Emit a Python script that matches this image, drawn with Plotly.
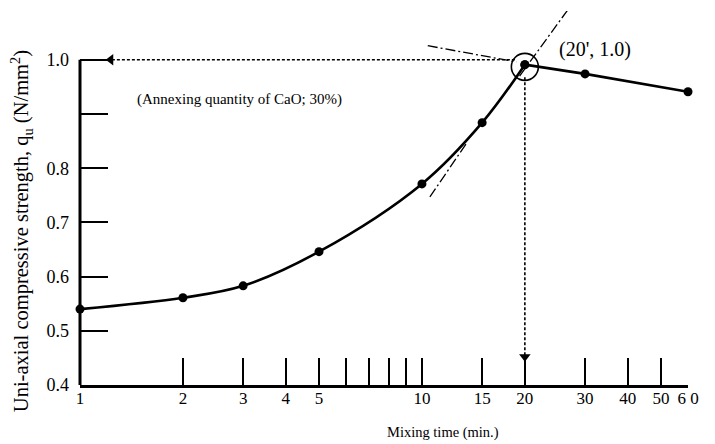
import math
import plotly.graph_objects as go

# ---- data ----
mix_time_rise = [1, 2, 3, 5, 10, 15, 20]
strength_rise = [0.540, 0.561, 0.583, 0.646, 0.771, 0.884, 0.991]
mix_time_fall = [20, 30, 60]
strength_fall = [0.991, 0.974, 0.941]

x_tickvals = [1, 2, 3, 4, 5, 6, 7, 8, 9, 10, 15, 20, 30, 40, 50, 60]
x_ticktext = ["1", "2", "3", "4", "5", "", "", "", "", "10", "15", "20", "30", "40", "50", "6 0"]
y_tickvals = [0.4, 0.5, 0.6, 0.7, 0.8, 0.9, 1.0]
y_ticktext = ["0.4", "0.5", "0.6", "0.7", "0.8", "", "1.0"]

optimum_time = 20
optimum_strength = 1.0

# construction lines (dash-dot tangents) endpoints in data units
tangent_flat_x = [10.4, 18.9]
tangent_flat_y = [1.026, 0.996]
tangent_steep_x = [26.7, 19.3]
tangent_steep_y = [1.092, 0.970]
tangent_mid_x = [10.55, 13.6]
tangent_mid_y = [0.747, 0.849]

# dotted read-off arrows
hline_x = [18.7, 1.23]
vline_y = [0.968, 0.452]

FONT = "Liberation Serif"
Y_MIN, Y_MAX = 0.4, 1.09

fig = go.Figure()

# main curve (smooth rise)
fig.add_trace(go.Scatter(
    x=mix_time_rise, y=strength_rise, mode="lines+markers",
    line=dict(color="black", width=2.6, shape="spline", smoothing=1.0),
    marker=dict(color="black", size=9), cliponaxis=False, showlegend=False))
# straight decline
fig.add_trace(go.Scatter(
    x=mix_time_fall, y=strength_fall, mode="lines+markers",
    line=dict(color="black", width=2.6),
    marker=dict(color="black", size=9), cliponaxis=False, showlegend=False))

# tangent construction lines
for tx, ty in [(tangent_flat_x, tangent_flat_y), (tangent_steep_x, tangent_steep_y),
               (tangent_mid_x, tangent_mid_y)]:
    fig.add_trace(go.Scatter(x=tx, y=ty, mode="lines",
                             line=dict(color="black", width=1.3, dash="10px,3px,2px,3px"),
                             showlegend=False))

# dotted horizontal arrow to y axis
fig.add_trace(go.Scatter(x=hline_x, y=[optimum_strength, optimum_strength], mode="lines",
                         line=dict(color="black", width=1.6, dash="3px,2px"), showlegend=False))
fig.add_trace(go.Scatter(x=[hline_x[-1]], y=[optimum_strength], mode="markers",
                         marker=dict(symbol="triangle-left", size=10, color="black"),
                         cliponaxis=False, showlegend=False))
# dotted vertical arrow to x axis
fig.add_trace(go.Scatter(x=[optimum_time, optimum_time], y=vline_y, mode="lines",
                         line=dict(color="black", width=1.6, dash="3px,2px"), showlegend=False))
fig.add_trace(go.Scatter(x=[optimum_time], y=[vline_y[-1]], mode="markers",
                         marker=dict(symbol="triangle-down", size=10, color="black"),
                         cliponaxis=False, showlegend=False))

# circle around optimum
fig.add_trace(go.Scatter(x=[optimum_time], y=[strength_rise[-1] - 0.004], mode="markers",
                         marker=dict(symbol="circle-open", size=27, color="black",
                                     line=dict(width=1.6, color="black")),
                         cliponaxis=False, showlegend=False))

# custom y axis line from 0.4 to 1.0
fig.add_shape(type="line", xref="paper", yref="y", x0=0, x1=0, y0=Y_MIN, y1=1.0,
              line=dict(color="black", width=3))

fig.add_annotation(x=math.log10(24.9), y=1.019, xref="x", yref="y",
                   text="(20', 1.0)", showarrow=False, xanchor="left",
                   font=dict(family=FONT, size=20, color="black"))
fig.add_annotation(x=math.log10(1.45), y=0.927, xref="x", yref="y",
                   text="(Annexing quantity of CaO; 30%)", showarrow=False, xanchor="left",
                   font=dict(family=FONT, size=15, color="black"))
fig.add_annotation(x=-75 / 608, y=0.41, xref="paper", yref="paper",
                   text="Uni-axial compressive strength, q<sub>u</sub> (N/mm<sup>2</sup>)",
                   textangle=-90, showarrow=False,
                   font=dict(family=FONT, size=20.5, color="black"))
fig.add_annotation(x=0.597, y=-0.155, xref="paper", yref="paper",
                   text="Mixing time (min.)", showarrow=False,
                   font=dict(family=FONT, size=14.5, color="black"))

fig.update_layout(
    width=707, height=436,
    margin=dict(l=72, r=27, t=3, b=59),
    paper_bgcolor="white", plot_bgcolor="white",
    font=dict(family=FONT, size=15, color="black"),
    xaxis=dict(type="log", range=[0, math.log10(60)], tickvals=x_tickvals, ticktext=x_ticktext,
               ticks="inside", ticklen=27, tickwidth=1.5, tickcolor="black",
               tickfont=dict(family=FONT, size=17, color="black"), ticklabelstandoff=-4,
               showline=True, linewidth=3, linecolor="black", showgrid=False, zeroline=False),
    yaxis=dict(range=[Y_MIN, Y_MAX], tickvals=y_tickvals, ticktext=y_ticktext,
               ticks="inside", ticklen=28, tickwidth=1.5, tickcolor="black",
               tickfont=dict(family=FONT, size=18, color="black"),
               showline=False, showgrid=False, zeroline=False, ticklabelstandoff=10),
)

fig.write_html("out.html")
